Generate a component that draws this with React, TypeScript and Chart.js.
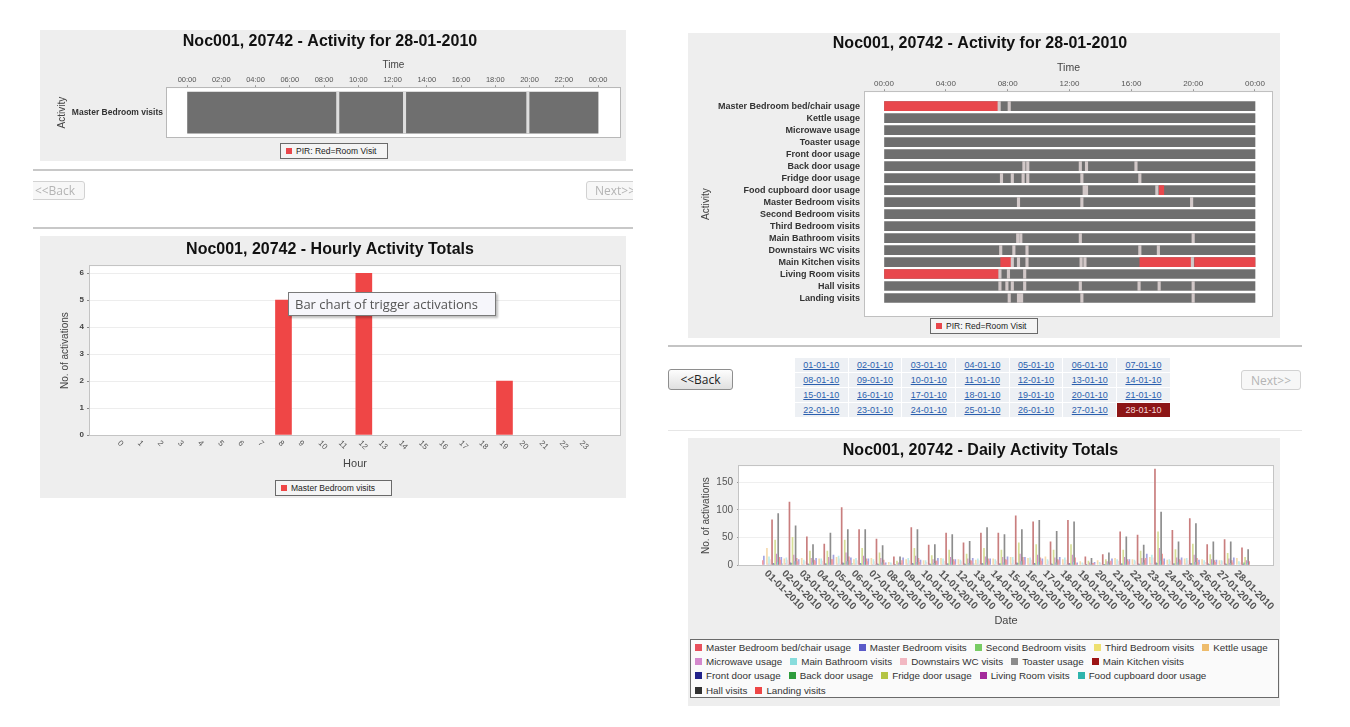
import React, { useEffect, useRef } from 'react';
import { Chart, registerables } from 'chart.js';

Chart.register(...registerables);

const SANS = '"Liberation Sans", Arial, Helvetica, sans-serif';
Chart.defaults.font.family = SANS;
Chart.defaults.color = '#333';

// ---------------- data ----------------
const titleDay = 'Noc001, 20742 - Activity for 28-01-2010';
const titleHourly = 'Noc001, 20742 - Hourly Activity Totals';
const titleDaily = 'Noc001, 20742 - Daily Activity Totals';

const timeTicksTwoHour = [0, 2, 4, 6, 8, 10, 12, 14, 16, 18, 20, 22, 24];
const timeTicksFourHour = [0, 4, 8, 12, 16, 20, 24];

const singleRow = ['Master Bedroom visits'];
const singleRowMarks = [8.8, 12.7, 19.9];

const activityRows = [
  'Master Bedroom bed/chair usage',
  'Kettle usage',
  'Microwave usage',
  'Toaster usage',
  'Front door usage',
  'Back door usage',
  'Fridge door usage',
  'Food cupboard door usage',
  'Master Bedroom visits',
  'Second Bedroom visits',
  'Third Bedroom visits',
  'Main Bathroom visits',
  'Downstairs WC visits',
  'Main Kitchen visits',
  'Living Room visits',
  'Hall visits',
  'Landing visits',
];
// [row, start hour, end hour]
const roomVisitOn = [
  [0, 0, 7.35],
  [7, 17.8, 18.1],
  [13, 7.55, 8.25],
  [13, 16.55, 19.85],
  [13, 20.1, 24],
  [14, 0, 7.4],
];
// [row, hour]
const triggerMarks = [
  [0, 7.45], [0, 8.1],
  [5, 9.05], [5, 9.3], [5, 12.7], [5, 13.1], [5, 16.3],
  [6, 7.6], [6, 8.3], [6, 9.0], [6, 9.3], [6, 12.8], [6, 16.55],
  [7, 12.95], [7, 13.1], [7, 17.65],
  [8, 8.7], [8, 12.8], [8, 19.9],
  [11, 8.65], [11, 8.85], [11, 12.7], [11, 20.0],
  [12, 7.55], [12, 8.4], [12, 9.25], [12, 16.55], [12, 17.75],
  [13, 8.3], [13, 8.7], [13, 9.25], [13, 12.75], [13, 13.0], [13, 19.95],
  [14, 7.5], [14, 8.05], [14, 9.1],
  [15, 7.5], [15, 7.95], [15, 8.3], [15, 9.1], [15, 12.7], [15, 16.5], [15, 17.8], [15, 20.0],
  [16, 8.1], [16, 8.7], [16, 8.9], [16, 12.8], [16, 20.0],
];

const hours = [0, 1, 2, 3, 4, 5, 6, 7, 8, 9, 10, 11, 12, 13, 14, 15, 16, 17, 18, 19, 20, 21, 22, 23];
const hourlyMasterBedroom = [0, 0, 0, 0, 0, 0, 0, 0, 5, 0, 0, 0, 6, 0, 0, 0, 0, 0, 0, 2, 0, 0, 0, 0];

const days = [
  '01-01-2010', '02-01-2010', '03-01-2010', '04-01-2010', '05-01-2010', '06-01-2010', '07-01-2010',
  '08-01-2010', '09-01-2010', '10-01-2010', '11-01-2010', '12-01-2010', '13-01-2010', '14-01-2010',
  '15-01-2010', '16-01-2010', '17-01-2010', '18-01-2010', '19-01-2010', '20-01-2010', '21-01-2010',
  '22-01-2010', '23-01-2010', '24-01-2010', '25-01-2010', '26-01-2010', '27-01-2010', '28-01-2010',
];
const dateLinks = [
  '01-01-10', '02-01-10', '03-01-10', '04-01-10', '05-01-10', '06-01-10', '07-01-10',
  '08-01-10', '09-01-10', '10-01-10', '11-01-10', '12-01-10', '13-01-10', '14-01-10',
  '15-01-10', '16-01-10', '17-01-10', '18-01-10', '19-01-10', '20-01-10', '21-01-10',
  '22-01-10', '23-01-10', '24-01-10', '25-01-10', '26-01-10', '27-01-10', '28-01-10',
];

const bedChairUsage = [8, 9, 6, 7, 10, 8, 6, 2, 8, 5, 7, 6, 7, 7, 9, 8, 7, 8, 2, 3, 7, 6, 12, 6, 8, 5, 5, 4];
const masterBedroomVisits = [16, 14, 10, 12, 18, 13, 11, 4, 13, 9, 12, 10, 12, 11, 15, 14, 11, 14, 4, 5, 11, 10, 20, 11, 13, 9, 9, 13];
const secondBedroomVisits = [0, 2, 0, 0, 0, 3, 0, 0, 0, 0, 0, 0, 2, 0, 0, 0, 0, 0, 0, 0, 0, 0, 0, 0, 0, 0, 0, 0];
const thirdBedroomVisits = [0, 0, 0, 0, 0, 0, 0, 0, 0, 0, 0, 0, 0, 0, 0, 0, 0, 0, 0, 0, 0, 0, 0, 0, 0, 0, 0, 0];
const kettleUsage = [30, 11, 12, 11, 14, 10, 12, 5, 10, 8, 12, 10, 9, 11, 14, 12, 15, 10, 6, 8, 12, 10, 14, 9, 11, 10, 8, 12];
const microwaveUsage = [2, 3, 1, 1, 2, 2, 1, 0, 2, 1, 1, 1, 2, 1, 2, 2, 1, 2, 0, 0, 1, 1, 3, 1, 2, 1, 1, 0];
const mainBathroomVisits = [15, 13, 9, 11, 16, 12, 10, 4, 12, 8, 11, 9, 11, 10, 14, 13, 10, 13, 4, 5, 10, 9, 18, 10, 12, 8, 8, 6];
const downstairsWcVisits = [10, 9, 6, 7, 11, 8, 6, 2, 8, 5, 7, 6, 8, 7, 9, 9, 7, 9, 2, 3, 7, 6, 13, 7, 8, 5, 6, 4];
const toasterUsage = [1, 1, 0, 1, 1, 0, 1, 0, 1, 0, 1, 0, 1, 0, 1, 1, 0, 1, 0, 0, 1, 0, 1, 0, 1, 0, 0, 0];
const mainKitchenVisits = [82, 114, 51, 38, 104, 64, 47, 15, 68, 36, 58, 40, 58, 58, 89, 78, 42, 81, 15, 19, 60, 54, 174, 63, 84, 37, 46, 31];
const frontDoorUsage = [3, 4, 2, 2, 4, 3, 2, 1, 3, 2, 2, 2, 3, 2, 4, 3, 2, 3, 1, 1, 2, 2, 4, 2, 3, 2, 2, 1];
const backDoorUsage = [2, 3, 1, 2, 3, 2, 1, 0, 2, 1, 2, 1, 2, 2, 3, 2, 1, 2, 0, 1, 2, 1, 3, 2, 2, 1, 1, 4];
const fridgeDoorUsage = [45, 50, 25, 25, 45, 30, 22, 7, 30, 17, 27, 20, 30, 27, 40, 37, 27, 37, 7, 10, 27, 25, 60, 28, 38, 19, 21, 14];
const livingRoomVisits = [20, 18, 12, 14, 22, 16, 12, 4, 16, 10, 14, 11, 15, 14, 20, 18, 13, 18, 4, 6, 14, 12, 30, 13, 18, 10, 11, 8];
const foodCupboardUsage = [5, 6, 4, 4, 6, 5, 4, 1, 5, 3, 4, 3, 4, 4, 6, 5, 4, 5, 1, 2, 4, 4, 7, 4, 5, 3, 3, 3];
const hallVisits = [93, 71, 37, 58, 64, 64, 35, 15, 64, 37, 55, 43, 68, 55, 64, 81, 61, 78, 12, 22, 51, 36, 96, 42, 75, 42, 42, 28];
const landingVisits = [14, 12, 9, 10, 15, 11, 9, 3, 12, 7, 10, 8, 11, 10, 14, 13, 10, 13, 3, 4, 10, 9, 20, 10, 12, 8, 8, 6];

const seriesNames = [
  'Master Bedroom bed/chair usage', 'Master Bedroom visits', 'Second Bedroom visits', 'Third Bedroom visits',
  'Kettle usage', 'Microwave usage', 'Main Bathroom visits', 'Downstairs WC visits', 'Toaster usage',
  'Main Kitchen visits', 'Front door usage', 'Back door usage', 'Fridge door usage', 'Living Room visits',
  'Food cupboard door usage', 'Hall visits', 'Landing visits',
];
const seriesValues = [
  bedChairUsage, masterBedroomVisits, secondBedroomVisits, thirdBedroomVisits, kettleUsage, microwaveUsage,
  mainBathroomVisits, downstairsWcVisits, toasterUsage, mainKitchenVisits, frontDoorUsage, backDoorUsage,
  fridgeDoorUsage, livingRoomVisits, foodCupboardUsage, hallVisits, landingVisits,
];
const seriesColors = [
  '#e8505c', '#5a5ac8', '#78cc64', '#eee070', '#eebc6c', '#d488cc', '#88dcdc', '#f2b8c2', '#8c8c8c',
  '#9c1414', '#22228a', '#2e9c3c', '#b4c444', '#a42a9c', '#2eb4ac', '#303030', '#ee4646',
];
const legendRows = [[0, 1, 2, 3, 4], [5, 6, 7, 8, 9], [10, 11, 12, 13, 14], [15, 16]];

// ---------------- styles ----------------
const GREY = '#6f6f6f';
const RED = '#e8474c';
const MARK = '#d2c8c8';
const PANEL = '#eeeeee';

const tint = (hex: string, a: number) => {
  const n = parseInt(hex.slice(1), 16);
  const m = (c: number) => Math.round(c + (255 - c) * a);
  return `rgb(${m((n >> 16) & 255)},${m((n >> 8) & 255)},${m(n & 255)})`;
};
const hhmm = (v: number) => String(Math.round(v) % 24).padStart(2, '0') + ':00';

const framePlugin = (fill: string, stroke: string) => ({
  id: 'frame',
  beforeDraw(chart: any) {
    const { ctx, chartArea: a } = chart;
    ctx.save();
    ctx.fillStyle = fill;
    ctx.fillRect(a.left, a.top, a.width, a.height);
    ctx.restore();
  },
  afterDraw(chart: any) {
    const { ctx, chartArea: a } = chart;
    ctx.save();
    ctx.strokeStyle = stroke;
    ctx.lineWidth = 1;
    ctx.strokeRect(Math.round(a.left) - 0.5, Math.round(a.top) - 0.5, Math.round(a.width) + 1, Math.round(a.height) + 1);
    ctx.restore();
  },
});

const slantPlugin = (values: number[], labels: string[], font: string, color: string, dx: number, dy: number) => ({
  id: 'slant',
  afterDraw(chart: any) {
    const { ctx, chartArea } = chart;
    const xs = chart.scales.x;
    ctx.save();
    ctx.font = font;
    ctx.fillStyle = color;
    ctx.textAlign = 'left';
    ctx.textBaseline = 'middle';
    values.forEach((v, i) => {
      ctx.save();
      ctx.translate(xs.getPixelForValue(v) + dx, chartArea.bottom + dy);
      ctx.rotate(Math.PI / 4);
      ctx.fillText(labels[i], 0, 0);
      ctx.restore();
    });
    ctx.restore();
  },
});

const titleOpts = (text: string, top: number, bottom: number, size = 16) => ({
  display: true,
  text,
  color: '#111',
  font: { size, weight: 'bold' as const },
  padding: { top, bottom },
});

// ---------------- chart builders ----------------
const buildDayTimeline = (canvas: HTMLCanvasElement) =>
  new Chart(canvas, {
    type: 'bar',
    data: {
      datasets: [
        { data: singleRow.map((_, i) => ({ x: [0, 24], y: i })), backgroundColor: GREY, barThickness: 41, grouped: false, order: 3 } as any,
        { data: singleRowMarks.map((t) => ({ x: [t - 0.07, t + 0.07], y: 0 })), backgroundColor: '#dedede', barThickness: 41, grouped: false, order: 1 } as any,
      ],
    },
    options: {
      indexAxis: 'y',
      animation: false,
      responsive: false,
      events: [],
      layout: { padding: { left: 0, right: 6, top: 0, bottom: 24 } },
      plugins: { legend: { display: false }, tooltip: { enabled: false }, title: titleOpts(titleDay, 2, 5) },
      scales: {
        x: {
          type: 'linear', position: 'top', min: -1.17, max: 25.28, offset: false,
          afterBuildTicks: (s: any) => { s.ticks = timeTicksTwoHour.map((v) => ({ value: v })); },
          afterFit: (s: any) => { s.height = 32; },
          ticks: { callback: (v: any) => hhmm(v), font: { size: 7.5 }, color: '#555', padding: 1, maxRotation: 0, autoSkip: false },
          grid: { drawOnChartArea: false, tickLength: 3, color: '#999' },
          border: { display: false },
          title: { display: true, text: 'Time', font: { size: 10 }, color: '#444', padding: { top: 3, bottom: 0 } },
        },
        y: {
          type: 'linear', min: -0.5, max: 0.5, reverse: true, offset: false,
          afterBuildTicks: (s: any) => { s.ticks = singleRow.map((_, i) => ({ value: i })); },
          afterFit: (s: any) => { s.width = 127; },
          ticks: { callback: (v: any) => singleRow[Math.round(v)], font: { size: 8.5, weight: 'bold' }, color: '#333', padding: 4, autoSkip: false },
          grid: { display: false, drawTicks: false },
          border: { display: false },
          title: { display: true, text: 'Activity', font: { size: 10 }, color: '#444', padding: { top: 16, bottom: 0 } },
        },
      },
    } as any,
    plugins: [framePlugin('#ffffff', '#b8b8b8')],
  });

const buildActivityTimeline = (canvas: HTMLCanvasElement) =>
  new Chart(canvas, {
    type: 'bar',
    data: {
      datasets: [
        { data: activityRows.map((_, i) => ({ x: [0, 24], y: i })), backgroundColor: GREY, barThickness: 9, grouped: false, order: 3 } as any,
        { data: roomVisitOn.map((s) => ({ x: [s[1], s[2]], y: s[0] })), backgroundColor: RED, barThickness: 9, grouped: false, order: 2 } as any,
        { data: triggerMarks.map((m) => ({ x: [m[1] - 0.08, m[1] + 0.08], y: m[0] })), backgroundColor: MARK, barThickness: 9, grouped: false, order: 1 } as any,
      ],
    },
    options: {
      indexAxis: 'y',
      animation: false,
      responsive: false,
      events: [],
      layout: { padding: { left: 0, right: 8, top: 0, bottom: 22 } },
      plugins: { legend: { display: false }, tooltip: { enabled: false }, title: titleOpts(titleDay, 1, 5) },
      scales: {
        x: {
          type: 'linear', position: 'top', min: -1.23, max: 25.1, offset: false,
          afterBuildTicks: (s: any) => { s.ticks = timeTicksFourHour.map((v) => ({ value: v })); },
          afterFit: (s: any) => { s.height = 34; },
          ticks: { callback: (v: any) => hhmm(v), font: { size: 8 }, color: '#555', padding: 1, maxRotation: 0, autoSkip: false },
          grid: { drawOnChartArea: false, tickLength: 3, color: '#999' },
          border: { display: false },
          title: { display: true, text: 'Time', font: { size: 10.5 }, color: '#444', padding: { top: 4, bottom: 0 } },
        },
        y: {
          type: 'linear', min: -1.167, max: 17.5, reverse: true, offset: false,
          afterBuildTicks: (s: any) => { s.ticks = activityRows.map((_, i) => ({ value: i })); },
          afterFit: (s: any) => { s.width = 177; },
          ticks: { callback: (v: any) => activityRows[Math.round(v)], font: { size: 9, weight: 'bold' }, color: '#333', padding: 5, autoSkip: false },
          grid: { display: false, drawTicks: false },
          border: { display: false },
          title: { display: true, text: 'Activity', font: { size: 10 }, color: '#444', padding: { top: 12, bottom: 0 } },
        },
      },
    } as any,
    plugins: [framePlugin('#ffffff', '#c0c0c0')],
  });

const buildHourly = (canvas: HTMLCanvasElement) =>
  new Chart(canvas, {
    type: 'bar',
    data: {
      datasets: [
        {
          label: 'Master Bedroom visits',
          data: hours.map((h, i) => ({ x: h, y: hourlyMasterBedroom[i] === 0 ? null : hourlyMasterBedroom[i] })),
          backgroundColor: '#ef4646',
          barThickness: 16,
          borderWidth: 0,
        } as any,
      ],
    },
    options: {
      animation: false,
      responsive: false,
      events: [],
      layout: { padding: { left: 0, right: 6, top: 0, bottom: 21 } },
      plugins: { legend: { display: false }, tooltip: { enabled: false }, title: titleOpts(titleHourly, 4, 7) },
      scales: {
        x: {
          type: 'linear', min: -1.63, max: 24.75, offset: false,
          afterBuildTicks: (s: any) => { s.ticks = hours.map((v) => ({ value: v })); },
          afterFit: (s: any) => { s.height = 42; },
          ticks: { display: false },
          grid: { display: false },
          border: { display: false },
          title: { display: true, text: 'Hour', font: { size: 11 }, color: '#444', padding: { top: 0, bottom: 6 } },
        },
        y: {
          type: 'linear', min: 0, max: 6.26,
          afterBuildTicks: (s: any) => { s.ticks = [0, 1, 2, 3, 4, 5, 6].map((v) => ({ value: v })); },
          afterFit: (s: any) => { s.width = 50; },
          ticks: { font: { size: 8, weight: 'bold' }, color: '#444', padding: 3, autoSkip: false },
          grid: { color: '#ededed', tickColor: '#888', tickLength: 3 },
          border: { display: false },
          title: { display: true, text: 'No. of activations', font: { size: 10 }, color: '#444', padding: { top: 19, bottom: 0 } },
        },
      },
    } as any,
    plugins: [
      framePlugin('#ffffff', '#c4c4c4'),
      slantPlugin(hours, hours.map(String), `8px ${SANS}`, '#555', -4, 7),
    ],
  });

const buildDaily = (canvas: HTMLCanvasElement) =>
  new Chart(canvas, {
    type: 'bar',
    data: {
      datasets: seriesValues.map((vals, i) => ({
        label: seriesNames[i],
        data: vals.map((v, d) => ({ x: d, y: v === 0 ? null : v })),
        backgroundColor: tint(seriesColors[i], 0.45),
        categoryPercentage: 1,
        barPercentage: 1,
        borderWidth: 0,
      })) as any,
    },
    options: {
      animation: false,
      responsive: false,
      events: [],
      layout: { padding: { left: 0, right: 7, top: 0, bottom: 76 } },
      plugins: { legend: { display: false }, tooltip: { enabled: false }, title: titleOpts(titleDaily, 3, 6) },
      scales: {
        x: {
          type: 'linear', min: -1.84, max: 28.84, offset: false,
          afterBuildTicks: (s: any) => { s.ticks = days.map((_, i) => ({ value: i })); },
          afterFit: (s: any) => { s.height = 65; },
          ticks: { display: false },
          grid: { display: false },
          border: { display: false },
          title: { display: true, text: 'Date', font: { size: 11 }, color: '#444', padding: { top: 0, bottom: 2 } },
        },
        y: {
          type: 'linear', min: 0, max: 179,
          afterBuildTicks: (s: any) => { s.ticks = [0, 50, 100, 150].map((v) => ({ value: v })); },
          afterFit: (s: any) => { s.width = 51; },
          ticks: { font: { size: 10 }, color: '#555', padding: 4, autoSkip: false },
          grid: { color: '#efefef', tickColor: '#999', tickLength: 2 },
          border: { display: false },
          title: { display: true, text: 'No. of activations', font: { size: 10 }, color: '#444', padding: { top: 12, bottom: 0 } },
        },
      },
    } as any,
    plugins: [
      framePlugin('#ffffff', '#c4c4c4'),
      slantPlugin(days.map((_, i) => i), days, `bold 10px ${SANS}`, '#555', -5, 7),
    ],
  });

// ---------------- components ----------------
function ChartCanvas({ w, h, build }: { w: number; h: number; build: (c: HTMLCanvasElement) => Chart }) {
  const ref = useRef<HTMLCanvasElement | null>(null);
  useEffect(() => {
    if (!ref.current) return;
    const chart = build(ref.current);
    return () => chart.destroy();
  }, []);
  return <canvas ref={ref} width={w} height={h} style={{ display: 'block', width: w, height: h }} />;
}

const abs = (left: number, top: number, width: number, height: number, extra: React.CSSProperties = {}): React.CSSProperties => ({
  position: 'absolute', left, top, width, height, boxSizing: 'border-box', ...extra,
});

function SmallLegend({ left, top, width, text, color }: { left: number; top: number; width: number; text: string; color: string }) {
  return (
    <div style={abs(left, top, width, 16, { border: '1px solid #6a6a6a', background: '#f4f4f4', display: 'flex', alignItems: 'center', paddingLeft: 5, fontSize: 8.5, color: '#222', whiteSpace: 'nowrap' })}>
      <span style={{ width: 6, height: 6, background: color, marginRight: 4, display: 'inline-block' }} />
      {text}
    </div>
  );
}

function Button({ left, top, width, height, text, enabled }: { left: number; top: number; width: number; height: number; text: string; enabled: boolean }) {
  return (
    <div
      style={abs(left, top, width, height, {
        border: enabled ? '1px solid #8e8e8e' : '1px solid #d2d2d2',
        borderRadius: 3,
        background: enabled ? 'linear-gradient(#fdfdfd, #e0e0e0)' : '#f7f7f7',
        color: enabled ? '#222' : '#b4b4b4',
        fontSize: 12,
        fontFamily: '"Open Sans", "DejaVu Sans", sans-serif',
        display: 'flex',
        alignItems: 'center',
        justifyContent: 'center',
      })}
    >
      {text}
    </div>
  );
}

export default function App() {
  return (
    <div style={{ position: 'absolute', left: 0, top: 0, width: 1350, height: 727, background: '#ffffff', overflow: 'hidden', fontFamily: SANS }}>
      {/* top-left: activity for one sensor */}
      <div style={abs(40, 30, 586, 131, { background: PANEL })}>
        <ChartCanvas w={586} h={131} build={buildDayTimeline} />
      </div>
      <SmallLegend left={280} top={143} width={108} text="PIR: Red=Room Visit" color={RED} />

      {/* left navigation strip */}
      <div style={abs(33, 160, 600, 75, { overflow: 'hidden' })}>
        <div style={abs(0, 9, 600, 2, { background: '#c8c8c8' })} />
        <Button left={-8} top={21} width={60} height={19} text="<<Back" enabled={false} />
        <Button left={553} top={21} width={58} height={19} text="Next>>" enabled={false} />
        <div style={abs(0, 67, 600, 2, { background: '#c8c8c8' })} />
      </div>

      {/* hourly totals */}
      <div style={abs(40, 236, 586, 262, { background: PANEL })}>
        <ChartCanvas w={586} h={262} build={buildHourly} />
      </div>
      <SmallLegend left={275} top={480} width={117} text="Master Bedroom visits" color="#ef4646" />
      <div
        style={abs(288, 292, 208, 24, {
          background: '#f6f6fb',
          border: '1px solid #7a7a7a',
          boxShadow: '2px 2px 2px rgba(0,0,0,0.25)',
          fontFamily: '"Open Sans", "DejaVu Sans", sans-serif',
          fontSize: 13,
          color: '#555',
          display: 'flex',
          alignItems: 'center',
          paddingLeft: 6,
          whiteSpace: 'nowrap',
        })}
      >
        Bar chart of trigger activations
      </div>

      {/* top-right: full activity timeline */}
      <div style={abs(688, 33, 592, 305, { background: PANEL })}>
        <ChartCanvas w={592} h={305} build={buildActivityTimeline} />
      </div>
      <SmallLegend left={930} top={318} width={108} text="PIR: Red=Room Visit" color={RED} />

      {/* right navigation with date table */}
      <div style={abs(668, 345, 634, 2, { background: '#c4c4c4' })} />
      <Button left={668} top={369} width={65} height={21} text="<<Back" enabled={true} />
      <Button left={1241} top={370} width={60} height={20} text="Next>>" enabled={false} />
      <div
        style={{
          position: 'absolute', left: 795, top: 358, display: 'grid',
          gridTemplateColumns: 'repeat(7, 52.7px)', gridAutoRows: '14px', gap: 1, background: '#ffffff',
        }}
      >
        {dateLinks.map((d, i) => {
          const sel = i === dateLinks.length - 1;
          return (
            <div
              key={d}
              style={{
                background: sel ? '#8c1616' : '#edf0f4',
                color: sel ? '#f6dcdc' : '#2b5fae',
                textDecoration: sel ? 'none' : 'underline',
                fontSize: 9,
                display: 'flex',
                alignItems: 'center',
                justifyContent: 'center',
                whiteSpace: 'nowrap',
              }}
            >
              {d}
            </div>
          );
        })}
      </div>
      <div style={abs(668, 430, 634, 1, { background: '#e6e6e6' })} />

      {/* daily totals */}
      <div style={abs(688, 438, 592, 268, { background: PANEL })}>
        <ChartCanvas w={592} h={268} build={buildDaily} />
      </div>
      <div style={abs(690, 639, 589, 59, { border: '1px solid #6a6a6a', background: '#fafafa', padding: '0 0 0 4px', overflow: 'hidden' })}>
        {legendRows.map((row, r) => (
          <div key={r} style={{ display: 'flex', alignItems: 'center', height: 14.3, whiteSpace: 'nowrap', fontSize: 9.8, color: '#333' }}>
            {row.map((si) => (
              <span key={si} style={{ display: 'inline-flex', alignItems: 'center', marginRight: 8 }}>
                <span style={{ width: 7, height: 7, background: seriesColors[si], display: 'inline-block', marginRight: 4 }} />
                {seriesNames[si]}
              </span>
            ))}
          </div>
        ))}
      </div>
    </div>
  );
}
